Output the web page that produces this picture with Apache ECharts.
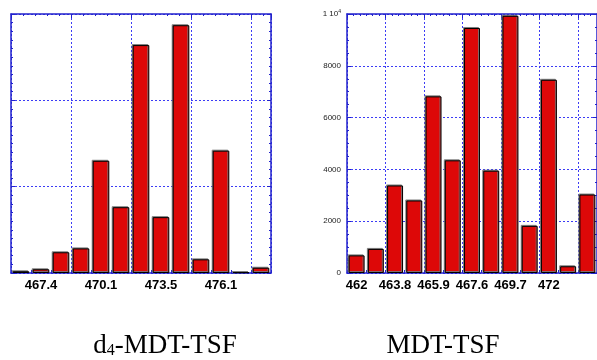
<!DOCTYPE html>
<html><head><meta charset="utf-8">
<script src="https://cdn.jsdelivr.net/npm/echarts@6/dist/echarts.min.js"></script>
<style>html,body{margin:0;padding:0;background:#fff}#c{width:597px;height:360px}</style>
</head><body><div id="c"></div>
<script>
// Left panel: d4-MDT-TSF
const leftCats = ['', '467.4', '', '', '470.1', '', '', '473.5', '', '', '476.1', '', ''];
const leftValues = [0.02, 0.043, 0.24, 0.285, 1.30, 0.762, 2.64, 0.647, 2.87, 0.158, 1.417, 0.008, 0.061];
// Right panel: MDT-TSF
const rightCats = ['462', '', '463.8', '', '465.9', '', '467.6', '', '469.7', '', '472', '', ''];
const rightValues = [680, 930, 3380, 2800, 6820, 4350, 9460, 3950, 9930, 1820, 7460, 260, 3030];
const titles = ['d{sub|4}-MDT-TSF', 'MDT-TSF'];

const BLUE = '#2222cc';
const GRIDC = '#3c3cf5';
const chart = echarts.init(document.getElementById('c'), null, {renderer: 'canvas'});

function catAxis(gi, cats) {
  return {
    type: 'category', gridIndex: gi, position: 'bottom', data: cats, boundaryGap: true,
    axisLine: {show: true, lineStyle: {color: BLUE, width: 1.5}},
    axisTick: {show: true, inside: true, length: 3, interval: 0, lineStyle: {color: BLUE}},
    axisLabel: {show: true, interval: 0, margin: 6, color: '#000', fontSize: 13, fontWeight: 'bold',
      fontFamily: 'Liberation Sans, Arial, sans-serif'},
    splitLine: {show: false}
  };
}
function topAxis(gi, interval, minorSplit) {
  return {
    type: 'value', gridIndex: gi, position: 'top', min: 0, max: 13, interval: interval,
    axisLine: {show: true, onZero: false, lineStyle: {color: BLUE, width: 1.5}},
    axisTick: {show: true, inside: true, length: 4, lineStyle: {color: BLUE}},
    minorTick: {show: true, splitNumber: minorSplit, length: 2, lineStyle: {color: BLUE}},
    axisLabel: {show: false},
    splitLine: {show: true, lineStyle: {color: GRIDC, type: [2, 2], width: 1}}
  };
}
function valAxis(gi, pos, max, interval, minorSplit, showLabels, split) {
  return {
    type: 'value', gridIndex: gi, position: pos, min: 0, max: max, interval: interval,
    axisLine: {show: true, onZero: false, lineStyle: {color: BLUE, width: 1.5}},
    axisTick: {show: true, inside: true, length: 4, lineStyle: {color: BLUE}},
    minorTick: {show: true, splitNumber: minorSplit, length: 2, lineStyle: {color: BLUE}},
    axisLabel: {show: showLabels, margin: 6, color: '#222', fontSize: 8,
      fontFamily: 'Liberation Sans, Arial, sans-serif',
      formatter: function (v) { return v === 10000 ? '1 10{sup|4}' : String(v); },
      rich: {sup: {fontSize: 5, verticalAlign: 'top', color: '#222', padding: [0, 0, 4, 0]}}},
    splitLine: {show: split, lineStyle: {color: GRIDC, type: [2, 2], width: 1}}
  };
}
const barStyle = {color: '#dd0808', borderColor: '#000', borderWidth: 1,
  shadowColor: 'rgba(120,120,120,0.9)', shadowOffsetX: -1, shadowOffsetY: -1, shadowBlur: 0};

chart.setOption({
  animation: false,
  grid: [
    {left: 11, top: 14, width: 260, height: 259},
    {left: 347, top: 14, width: 260, height: 259}
  ],
  xAxis: [catAxis(0, leftCats), topAxis(0, 3, 5), catAxis(1, rightCats), topAxis(1, 2, 6)],
  yAxis: [
    valAxis(0, 'left', 3, 1, 10, false, true),
    valAxis(0, 'right', 3, 1, 10, false, false),
    valAxis(1, 'left', 10000, 2000, 4, true, true),
    valAxis(1, 'right', 10000, 2000, 4, false, false)
  ],
  series: [
    {type: 'bar', xAxisIndex: 0, yAxisIndex: 0, data: leftValues, barCategoryGap: '17%', itemStyle: barStyle},
    {type: 'bar', xAxisIndex: 2, yAxisIndex: 2, data: rightValues, barCategoryGap: '17%', itemStyle: barStyle}
  ],
  graphic: [
    {type: 'text', x: 165, y: 359, style: {text: titles[0], align: 'center', verticalAlign: 'bottom',
      fill: '#000', fontSize: 27, fontFamily: 'Liberation Serif, Times New Roman, serif',
      rich: {sub: {fontSize: 16, verticalAlign: 'bottom', fontFamily: 'Liberation Serif, Times New Roman, serif', fill: '#000'}}}},
    {type: 'text', x: 443, y: 359, style: {text: titles[1], align: 'center', verticalAlign: 'bottom',
      fill: '#000', fontSize: 27, fontFamily: 'Liberation Serif, Times New Roman, serif'}}
  ]
});
</script></body></html>
